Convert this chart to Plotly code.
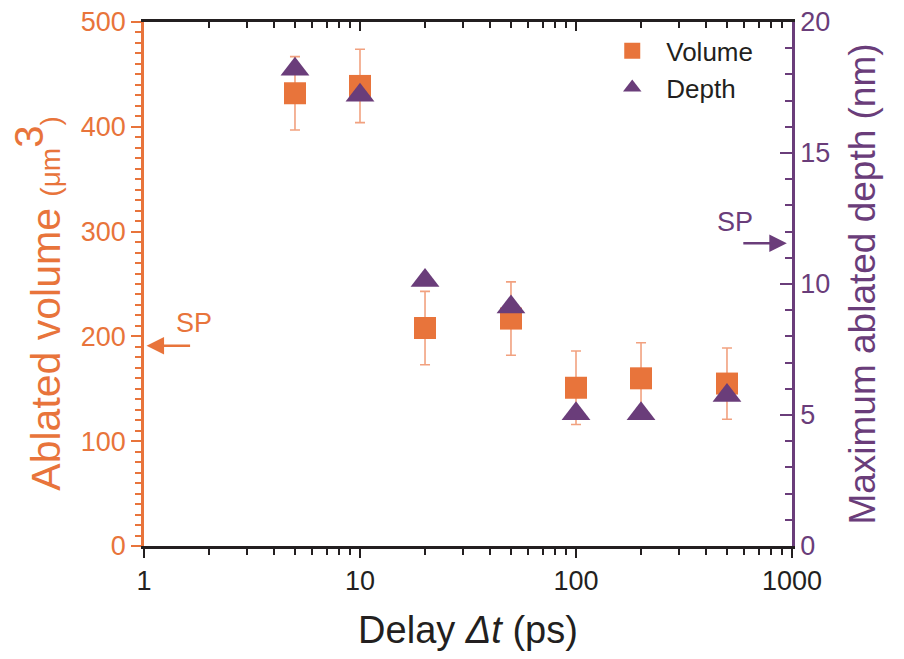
import plotly.graph_objects as go

# ---- data ----
delay_ps = [5, 10, 20, 50, 100, 200, 500]
volume_um3 = [432, 439, 208, 217, 151, 160, 155]
volume_err = [35, 35, 35, 35, 35, 34, 34]
depth_nm = [18.2, 17.2, 10.13, 9.12, 5.05, 5.05, 5.74]
sp_volume = 191
sp_depth = 11.56
x_tickvals = [1, 10, 100, 1000]
x_ticktext = ["1", "10", "100", "1000"]

ORANGE = "#E8743B"
PURPLE = "#6A3D7A"
DARK = "#231F20"
FONT = "Liberation Sans, Arial, Helvetica, sans-serif"

minor_x = [m * d for d in (1, 10, 100) for m in range(2, 10)]

fig = go.Figure()
fig.add_trace(go.Scatter(
    x=delay_ps, y=volume_um3, mode="markers", name="Volume",
    marker=dict(symbol="square", size=22, color=ORANGE, line=dict(width=0)),
    error_y=dict(type="data", array=volume_err, color="rgba(236,130,84,0.75)",
                 thickness=1.6, width=5),
    xaxis="x", yaxis="y",
))
fig.add_trace(go.Scatter(
    x=delay_ps, y=depth_nm, mode="markers", name="Depth",
    marker=dict(symbol="triangle-up", size=25, color=PURPLE, line=dict(width=0)),
    xaxis="x2", yaxis="y2",
))

fig.update_layout(
    width=904, height=659,
    margin=dict(l=144, r=112, t=22, b=113),
    paper_bgcolor="white", plot_bgcolor="white",
    font=dict(family=FONT, color=DARK),
    showlegend=True,
    legend=dict(x=0.701, y=0.99, xanchor="left", yanchor="top",
                font=dict(size=26, color=DARK), bgcolor="rgba(0,0,0,0)",
                itemwidth=58, tracegroupgap=0),
    xaxis=dict(
        type="log", range=[0, 3], showgrid=False, zeroline=False, automargin=False,
        showline=True, linecolor=DARK, linewidth=2.5,
        ticks="outside", ticklen=9, tickwidth=2, tickcolor=DARK,
        tickmode="array", tickvals=x_tickvals, ticktext=x_ticktext,
        tickfont=dict(size=27, color=DARK, family=FONT),
        minor=dict(tickmode="array", tickvals=minor_x, ticks="outside",
                   ticklen=6, tickwidth=2, tickcolor=DARK, showgrid=False),
        title=dict(text="Delay <i>Δt</i> (ps)", font=dict(size=38, color=DARK, family=FONT),
                   standoff=22),
    ),
    xaxis2=dict(
        type="log", range=[0, 3], overlaying="x", side="top", anchor="y",
        showgrid=False, zeroline=False, automargin=False,
        showline=True, linecolor=DARK, linewidth=2.5,
        ticks="inside", ticklen=9, tickwidth=2, tickcolor=DARK,
        tickmode="array", tickvals=x_tickvals, showticklabels=False,
        minor=dict(tickmode="array", tickvals=minor_x, ticks="inside",
                   ticklen=6, tickwidth=2, tickcolor=DARK, showgrid=False),
    ),
    yaxis=dict(
        range=[0, 500], showgrid=False, zeroline=False, automargin=False,
        showline=True, linecolor=ORANGE, linewidth=2.5,
        ticks="outside", ticklen=10, tickwidth=2, tickcolor=ORANGE,
        dtick=100, tick0=0,
        tickfont=dict(size=27, color=ORANGE, family=FONT),
        minor=dict(dtick=10, ticks="outside", ticklen=6, tickwidth=2,
                   tickcolor=ORANGE, showgrid=False),
        title=dict(text="Ablated volume <span style='font-size:28px'>(μm</span>"
                        "<sup><span style='font-size:40px'>3</span></sup>"
                        "<span style='font-size:28px'>)</span>"
                        "<span style='font-size:28px'>&nbsp;&nbsp;&nbsp;&nbsp;&nbsp;</span>",
                   font=dict(size=41, color=ORANGE, family=FONT), standoff=8),
    ),
    yaxis2=dict(
        range=[0, 20], overlaying="y", side="right", anchor="x",
        showgrid=False, zeroline=False, automargin=False,
        showline=True, linecolor=PURPLE, linewidth=2.5,
        ticks="inside", ticklen=12, tickwidth=2, tickcolor=PURPLE,
        dtick=5, tick0=0,
        tickfont=dict(size=27, color=PURPLE, family=FONT),
        minor=dict(dtick=1, ticks="inside", ticklen=7, tickwidth=2,
                   tickcolor=PURPLE, showgrid=False),
        title=dict(text="Maximum ablated depth (nm)",
                   font=dict(size=37, color=PURPLE, family=FONT), standoff=20),
    ),
)

# SP markers (arrows + labels)
fig.add_annotation(xref="paper", x=0.004, yref="y", y=sp_volume, ax=45, ay=0,
                   text="", showarrow=True, arrowhead=2, arrowsize=1.4,
                   arrowwidth=2.5, arrowcolor=ORANGE)
fig.add_annotation(xref="paper", x=0.077, xanchor="center", yref="y", y=sp_volume + 22,
                   text="SP", showarrow=False,
                   font=dict(size=27, color=ORANGE, family=FONT))
fig.add_annotation(xref="paper", x=0.992, yref="y2", y=sp_depth, ax=-45, ay=0,
                   text="", showarrow=True, arrowhead=2, arrowsize=1.4,
                   arrowwidth=2.5, arrowcolor=PURPLE)
fig.add_annotation(xref="paper", x=0.912, xanchor="center", yref="y2", y=sp_depth + 0.8,
                   text="SP", showarrow=False,
                   font=dict(size=27, color=PURPLE, family=FONT))

fig.write_html("out.html")
